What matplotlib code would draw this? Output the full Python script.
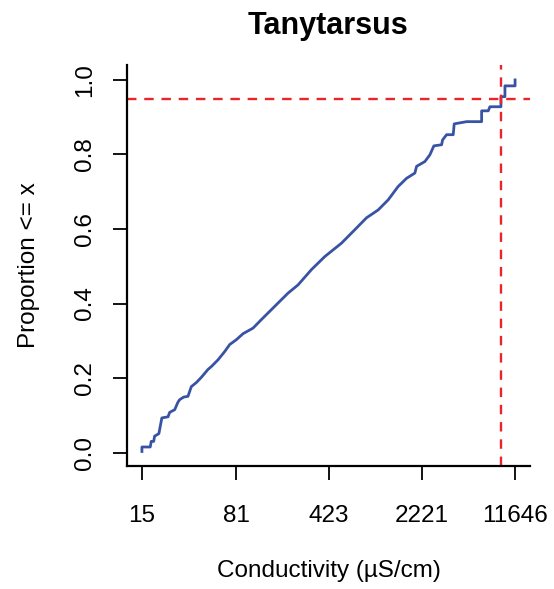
import matplotlib
matplotlib.use("Agg")
import matplotlib.pyplot as plt
import numpy as np

plt.rcParams['font.family'] = ['Liberation Sans', 'DejaVu Sans']

# vertices of the cumulative curve (conductivity, proportion <= x)
cond = [15, 15, 17.4, 17.7, 18.5, 18.8, 20.3, 21.4, 23.9, 24.6, 26.9, 28.5,
        29.4, 31.6, 34.1, 36.2, 39.6, 43.3, 48.7, 51.8, 58.3, 65.6, 71.8,
        80.9, 91.0, 108.8, 126.4, 165.2, 203.3, 242.9, 308.5, 391.3, 527.1,
        668.3, 823.5, 1013, 1211, 1447, 1682, 1950, 2010, 2332, 2549, 2737,
        3141, 3197, 3434, 3864, 3933, 4908, 6413, 6413, 7217, 7436, 9051,
        9051, 9721, 9721, 11646, 11646]
prop = [0.003, 0.015, 0.015, 0.030, 0.030, 0.044, 0.051, 0.093, 0.096, 0.108,
        0.115, 0.135, 0.142, 0.149, 0.151, 0.177, 0.188, 0.202, 0.223, 0.231,
        0.249, 0.271, 0.290, 0.303, 0.319, 0.334, 0.357, 0.397, 0.428, 0.450,
        0.491, 0.526, 0.562, 0.598, 0.630, 0.651, 0.678, 0.714, 0.736, 0.750,
        0.768, 0.781, 0.799, 0.823, 0.826, 0.839, 0.853, 0.853, 0.882, 0.888,
        0.888, 0.917, 0.917, 0.928, 0.928, 0.955, 0.955, 0.984, 0.984, 1.0]

q95 = 9051
p95 = 0.95
xticks = [15, 81, 423, 2221, 11646]
yticks = [0.0, 0.2, 0.4, 0.6, 0.8, 1.0]

fig = plt.figure(figsize=(5.54, 5.89), dpi=100)
ax = fig.add_axes([127/554, 1-466/589, 403/554, 401/589])

ax.plot(cond, prop, color="#3953a4", lw=2.0)
ax.axhline(p95, color="#e8262a", lw=1.7, ls=(0, (4, 3.3)))
ax.axvline(q95, color="#e8262a", lw=1.7, ls=(0, (4, 3.3)))

ax.set_xscale("log")
lo, hi = np.log10(15), np.log10(11646)
ext = 0.04 * (hi - lo)
ax.set_xlim(10**(lo - ext), 10**(hi + ext))
ax.set_ylim(-0.036, 1.04)

ax.set_xticks(xticks)
ax.set_xticklabels([str(t) for t in xticks])
ax.xaxis.set_minor_locator(matplotlib.ticker.NullLocator())
ax.set_yticks(yticks)
ax.set_yticklabels([f"{t:.1f}" for t in yticks], rotation=90, va="center")

ax.spines["top"].set_visible(False)
ax.spines["right"].set_visible(False)
for s in ["left", "bottom"]:
    ax.spines[s].set_linewidth(1.6)
ax.tick_params(axis="both", length=10, width=1.3, labelsize=17.5)
ax.tick_params(axis="x", pad=18)
ax.tick_params(axis="y", pad=12)

ax.set_title("Tanytarsus", fontsize=22, fontweight="bold", pad=22)
ax.set_xlabel("Conductivity (µS/cm)", fontsize=17.5, labelpad=24)
ax.set_ylabel("Proportion <= x", fontsize=17.5, labelpad=25)

fig.savefig("out.png", dpi=100)
